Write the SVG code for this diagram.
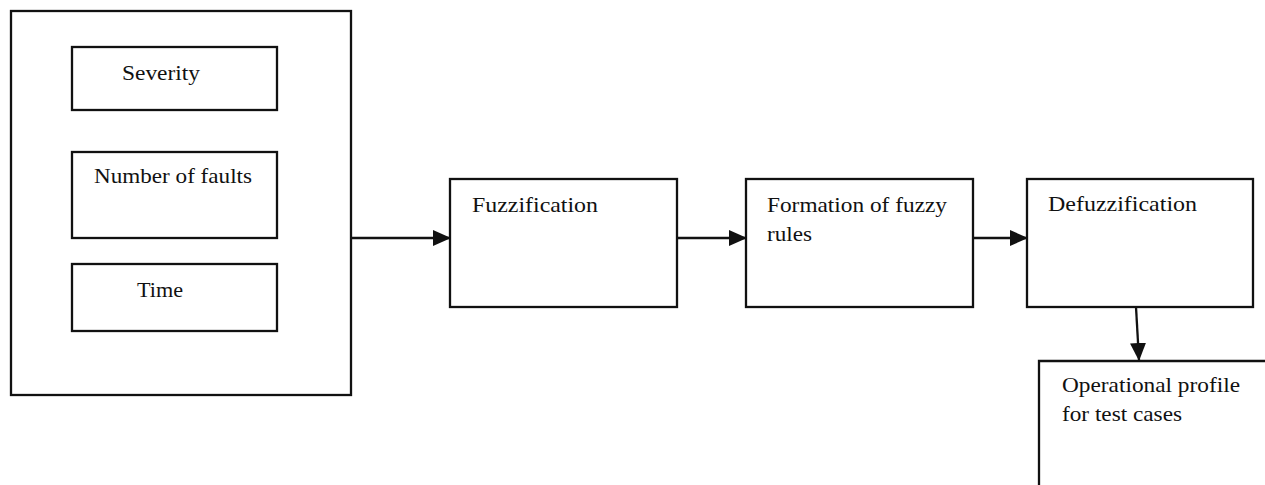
<svg xmlns="http://www.w3.org/2000/svg" width="1265" height="485" viewBox="0 0 1265 485">
<defs>
<style>
.box{fill:#fff;stroke:#111;stroke-width:2.3}
.ln{fill:none;stroke:#111;stroke-width:2.3}
.t{font-family:"Liberation Serif","Times New Roman",serif;font-size:21.5px;fill:#111}
</style>
<marker id="ahL" markerWidth="18" markerHeight="16" refX="17" refY="8" orient="auto" markerUnits="userSpaceOnUse" viewBox="0 0 18 16">
<path d="M0,0 L18,8 L0,16 Z" fill="#111"/>
</marker>
</defs>
<rect width="1265" height="485" fill="#fff"/>
<g id="inputs">
<rect class="box" x="11" y="11" width="340" height="384"/>
</g>
<g id="severity">
<rect class="box" x="72" y="47" width="205" height="63"/>
<text class="t" x="122" y="80" textLength="78" lengthAdjust="spacingAndGlyphs">Severity</text>
</g>
<g id="faults">
<rect class="box" x="72" y="152" width="205" height="86"/>
<text class="t" x="94" y="183" textLength="158" lengthAdjust="spacingAndGlyphs">Number of faults</text>
</g>
<g id="time">
<rect class="box" x="72" y="264" width="205" height="67"/>
<text class="t" x="137" y="297" textLength="46" lengthAdjust="spacingAndGlyphs">Time</text>
</g>
<g id="fuzzification">
<rect class="box" x="450" y="179" width="227" height="128"/>
<text class="t" x="472" y="212" textLength="126" lengthAdjust="spacingAndGlyphs">Fuzzification</text>
</g>
<g id="rules">
<rect class="box" x="746" y="179" width="227" height="128"/>
<text class="t" x="767" y="212" textLength="180" lengthAdjust="spacingAndGlyphs">Formation of fuzzy</text>
<text class="t" x="767" y="241" textLength="45" lengthAdjust="spacingAndGlyphs">rules</text>
</g>
<g id="defuzzification">
<rect class="box" x="1027" y="179" width="226" height="128"/>
<text class="t" x="1048" y="211" textLength="149" lengthAdjust="spacingAndGlyphs">Defuzzification</text>
</g>
<g id="profile">
<path class="ln" d="M1039,490 L1039,361 L1270,361"/>
<text class="t" x="1062" y="392" textLength="178" lengthAdjust="spacingAndGlyphs">Operational profile</text>
<text class="t" x="1062" y="421" textLength="120" lengthAdjust="spacingAndGlyphs">for test cases</text>
</g>
<g id="connectors">
<line class="ln" x1="352" y1="238" x2="450" y2="238" marker-end="url(#ahL)"/>
<line class="ln" x1="677" y1="238" x2="746" y2="238" marker-end="url(#ahL)"/>
<line class="ln" x1="973" y1="238" x2="1027" y2="238" marker-end="url(#ahL)"/>
<line class="ln" x1="1136" y1="307" x2="1139" y2="360" marker-end="url(#ahL)"/>
</g>
</svg>
